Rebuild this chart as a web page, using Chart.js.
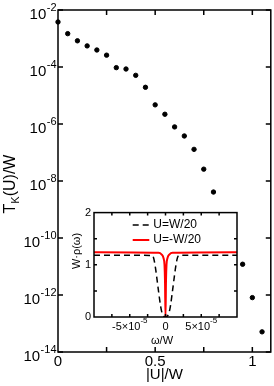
<!DOCTYPE html>
<html>
<head>
<meta charset="utf-8">
<script src="https://cdn.jsdelivr.net/npm/chart.js@4.4.0/dist/chart.umd.min.js"></script>
<style>
  html, body { margin: 0; padding: 0; background: #fff; }
  #wrap { position: relative; width: 274px; height: 386px; }
  #main { position: absolute; left: 0; top: 0; }
  #inset { position: absolute; left: 66px; top: 203px; }
</style>
</head>
<body>
<div id="wrap">
  <canvas id="main" width="274" height="386"></canvas>
  <canvas id="inset" width="176" height="146"></canvas>
</div>
<script>
const FONT = '"Liberation Sans", Arial, sans-serif';

// main plot: Kondo temperature vs |U|/W
const uValues = [0, 0.05, 0.10, 0.15, 0.20, 0.25, 0.30, 0.35, 0.40, 0.45, 0.50, 0.55, 0.60, 0.65, 0.70, 0.75, 0.80, 0.95, 1.00, 1.05];
const tkValues = [3.8e-3, 1.48e-3, 8.3e-4, 5.5e-4, 3.95e-4, 2.6e-4, 9.5e-5, 8.5e-5, 5.1e-5, 1.94e-5, 4.7e-6, 2.2e-6, 7.9e-7, 3.8e-7, 1.29e-7, 2.6e-8, 4.1e-9, 1.2e-11, 8.1e-13, 5.1e-14];
const mainXTicks = [0.25, 0.5, 0.75, 1];
const mainXLabels = [0, 0.5, 1];
const mainYExponents = [-2, -4, -6, -8, -10, -12, -14];

// inset: spectral function W*rho(omega)
const omegaUp = [-1e-4, -1.97e-5, -1.68e-5, -1.47e-5, -1.26e-5, -9.8e-6, -7.0e-6, -4.9e-6, 0, 4.9e-6, 7.0e-6, 9.8e-6, 1.26e-5, 1.47e-5, 1.68e-5, 1.97e-5, 1e-4];
const rhoUp = [1.185, 1.18, 1.14, 1.0, 0.8, 0.5, 0.22, 0.08, 0, 0.08, 0.22, 0.5, 0.8, 1.0, 1.14, 1.18, 1.185];
const omegaDown = [-1e-4, -9.8e-6, -5.6e-6, -2.8e-6, -1.4e-6, -7e-7, 0, 7e-7, 1.4e-6, 2.8e-6, 5.6e-6, 9.8e-6, 1e-4];
const rhoDown = [1.242, 1.23, 1.2, 1.13, 1.0, 0.7, 0, 0.7, 1.0, 1.13, 1.2, 1.23, 1.242];
const insetXTicks = [-7.5e-5, -5e-5, -2.5e-5, 0, 2.5e-5, 5e-5, 7.5e-5];
const insetXLabels = [-5e-5, 0, 5e-5];
const insetYTicks = [0.5, 1, 1.5];
const insetYLabels = [0, 1, 2];

const mainFrame = {
  id: 'mainFrame',
  afterDraw(chart) {
    const { ctx, chartArea: a, scales: { x, y } } = chart;
    ctx.save();
    ctx.strokeStyle = '#000';
    ctx.lineWidth = 1.5;
    ctx.strokeRect(a.left, a.top, a.right - a.left, a.bottom - a.top);

    // ticks point inward
    ctx.beginPath();
    mainXTicks.forEach(v => {
      const px = x.getPixelForValue(v);
      ctx.moveTo(px, a.bottom); ctx.lineTo(px, a.bottom - 5);
      ctx.moveTo(px, a.top); ctx.lineTo(px, a.top + 5);
    });
    mainYExponents.forEach(e => {
      const py = y.getPixelForValue(Math.pow(10, e));
      ctx.moveTo(a.left, py); ctx.lineTo(a.left + 5, py);
      ctx.moveTo(a.right, py); ctx.lineTo(a.right - 5, py);
    });
    ctx.stroke();

    // 10^n labels
    ctx.fillStyle = '#000';
    ctx.textAlign = 'right';
    ctx.textBaseline = 'alphabetic';
    mainYExponents.forEach(e => {
      const py = y.getPixelForValue(Math.pow(10, e));
      const right = a.left - 1.5;
      ctx.font = '11px ' + FONT;
      const expText = String(e);
      const ew = ctx.measureText(expText).width;
      ctx.fillText(expText, right, py + 0.5);
      ctx.font = '15px ' + FONT;
      ctx.fillText('10', right - ew - 0.5, py + 9);
    });

    // y title with subscript
    ctx.translate(15, (a.top + a.bottom) / 2 + 3);
    ctx.rotate(-Math.PI / 2);
    ctx.textAlign = 'left';
    const big = '16px ' + FONT;
    const small = '11px ' + FONT;
    ctx.font = big;
    const wT = ctx.measureText('T').width;
    const wRest = ctx.measureText('(U)/W').width;
    ctx.font = small;
    const wK = ctx.measureText('K').width;
    let x0 = -(wT + wK + wRest) / 2;
    ctx.font = big;
    ctx.fillText('T', x0, 0);
    ctx.font = small;
    ctx.fillText('K', x0 + wT, 3.5);
    ctx.font = big;
    ctx.fillText('(U)/W', x0 + wT + wK, 0);
    ctx.restore();
  }
};

const insetFrame = {
  id: 'insetFrame',
  afterDraw(chart) {
    const { ctx, chartArea: a, scales: { x, y } } = chart;
    ctx.save();
    ctx.strokeStyle = '#000';
    ctx.lineWidth = 1.5;
    ctx.setLineDash([]);
    ctx.strokeRect(a.left, a.top, a.right - a.left, a.bottom - a.top);

    ctx.beginPath();
    insetXTicks.forEach(v => {
      const px = x.getPixelForValue(v);
      ctx.moveTo(px, a.bottom); ctx.lineTo(px, a.bottom - 3);
      ctx.moveTo(px, a.top); ctx.lineTo(px, a.top + 3);
    });
    insetYTicks.forEach(v => {
      const py = y.getPixelForValue(v);
      ctx.moveTo(a.left, py); ctx.lineTo(a.left + 3, py);
      ctx.moveTo(a.right, py); ctx.lineTo(a.right - 3, py);
    });
    ctx.stroke();

    // x tick labels like 5x10^-5
    ctx.fillStyle = '#000';
    ctx.textAlign = 'left';
    ctx.textBaseline = 'alphabetic';
    insetXLabels.forEach(v => {
      const px = x.getPixelForValue(v);
      ctx.font = '11px ' + FONT;
      if (v === 0) {
        ctx.textAlign = 'center';
        ctx.fillText('0', px, a.bottom + 13);
        ctx.textAlign = 'left';
        return;
      }
      const mant = Math.round(v / 1e-5) + '\u00d710';
      const wm = ctx.measureText(mant).width;
      ctx.font = '8px ' + FONT;
      const we = ctx.measureText('-5').width;
      const start = px - (wm + we) / 2;
      ctx.fillText('-5', start + wm, a.bottom + 5.5);
      ctx.font = '11px ' + FONT;
      ctx.fillText(mant, start, a.bottom + 13);
    });

    ctx.font = '11px ' + FONT;
    ctx.textAlign = 'center';
    ctx.fillText('\u03c9/W', 96, a.bottom + 27);

    // y title
    ctx.save();
    ctx.translate(14, 48);
    ctx.rotate(-Math.PI / 2);
    ctx.fillText('W\u00b7\u03c1(\u03c9)', 0, 0);
    ctx.restore();

    // legend inside the plot
    ctx.textAlign = 'left';
    ctx.textBaseline = 'middle';
    ctx.font = '12px ' + FONT;
    chart.data.datasets.forEach((ds, i) => {
      const ly = 22 + i * 15;
      ctx.strokeStyle = ds.borderColor;
      ctx.lineWidth = ds.borderWidth;
      ctx.setLineDash(ds.borderDash || []);
      ctx.beginPath();
      ctx.moveTo(66.7, ly);
      ctx.lineTo(83.3, ly);
      ctx.stroke();
      ctx.fillText(ds.label, 87.3, ly);
    });
    ctx.restore();
  }
};

new Chart(document.getElementById('main'), {
  type: 'scatter',
  data: {
    datasets: [{
      data: uValues.map((u, i) => ({ x: u, y: tkValues[i] })),
      backgroundColor: '#000',
      borderColor: '#000',
      pointRadius: 2.2,
      pointHoverRadius: 2.2,
      clip: false
    }]
  },
  options: {
    responsive: false,
    animation: false,
    events: [],
    layout: { padding: { top: 10, right: 2, left: 0, bottom: 0 } },
    plugins: { legend: { display: false }, tooltip: { enabled: false } },
    scales: {
      x: {
        type: 'linear',
        min: 0,
        max: 1.095,
        afterFit(s) { s.height = 34; },
        afterBuildTicks(s) { s.ticks = mainXLabels.map(v => ({ value: v })); },
        grid: { display: false, drawTicks: false },
        border: { display: false },
        ticks: {
          font: { size: 15, family: FONT },
          color: '#000',
          padding: 1,
          maxRotation: 0,
          autoSkip: false,
          callback: v => String(v)
        },
        title: {
          display: true,
          text: '|U|/W',
          font: { size: 15, family: FONT },
          color: '#000',
          padding: { top: 0, bottom: 2 }
        }
      },
      y: {
        type: 'logarithmic',
        min: 1e-14,
        max: 1e-2,
        afterFit(s) { s.width = 58; },
        ticks: { display: false },
        grid: { display: false, drawTicks: false },
        border: { display: false }
      }
    }
  },
  plugins: [mainFrame]
});

new Chart(document.getElementById('inset'), {
  type: 'line',
  data: {
    datasets: [{
      label: 'U=W/20',
      data: omegaUp.map((w, i) => ({ x: w, y: rhoUp[i] })),
      borderColor: '#000',
      borderWidth: 1.5,
      borderDash: [6, 4],
      pointRadius: 0,
      cubicInterpolationMode: 'monotone',
      order: 1
    }, {
      label: 'U=-W/20',
      data: omegaDown.map((w, i) => ({ x: w, y: rhoDown[i] })),
      borderColor: '#ff0000',
      borderWidth: 2,
      pointRadius: 0,
      cubicInterpolationMode: 'monotone',
      order: 0
    }]
  },
  options: {
    responsive: false,
    animation: false,
    events: [],
    layout: { padding: { top: 6, right: 5, left: 0, bottom: 0 } },
    plugins: { legend: { display: false }, tooltip: { enabled: false } },
    scales: {
      x: {
        type: 'linear',
        min: -1e-4,
        max: 1e-4,
        afterFit(s) { s.height = 32; },
        ticks: { display: false },
        grid: { display: false, drawTicks: false },
        border: { display: false }
      },
      y: {
        type: 'linear',
        min: 0,
        max: 2,
        afterFit(s) { s.width = 28; },
        afterBuildTicks(s) { s.ticks = insetYLabels.map(v => ({ value: v })); },
        ticks: { font: { size: 11, family: FONT }, color: '#000', padding: 3 },
        grid: { display: false, drawTicks: false },
        border: { display: false }
      }
    }
  },
  plugins: [insetFrame]
});
</script>
</body>
</html>
